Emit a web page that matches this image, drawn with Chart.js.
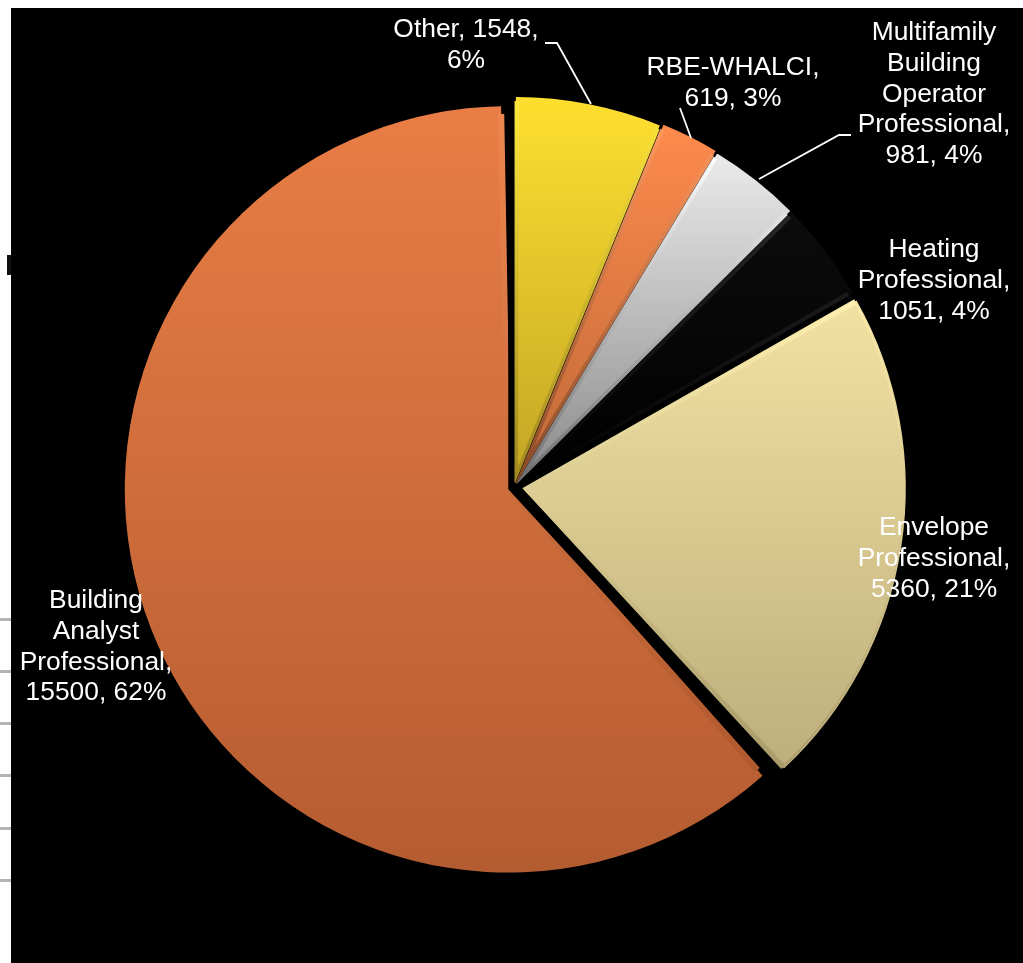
<!DOCTYPE html>
<html>
<head>
<meta charset="utf-8">
<title>Certifications</title>
<script src="https://cdn.jsdelivr.net/npm/chart.js@4"></script>
<style>
  html, body { margin: 0; padding: 0; background: #fff; overflow: hidden; }
  #myChart { position: absolute; left: 11px; top: 8px; background: #000; }
  .rule { position: absolute; left: 0; width: 11px; height: 3px; background: #b4b4b4; }
  #stub { position: absolute; left: 7px; top: 255px; width: 4px; height: 20px; background: #111; }
</style>
</head>
<body>
<div id="stub"></div>
<canvas id="myChart" width="1012" height="955"></canvas>
<script>
// Chart data.
const categories = ['Other', 'RBE-WHALCI', 'Multifamily Building Operator Professional', 'Heating Professional', 'Envelope Professional', 'Building Analyst Professional'];
const values = [1548, 619, 981, 1051, 5360, 15500];
const percents = [6, 3, 4, 4, 21, 62];

// Label text, one entry per line.
const labelLines = [
  ['Other, 1548,', '6%'],
  ['RBE-WHALCI,', '619, 3%'],
  ['Multifamily', 'Building', 'Operator', 'Professional,', '981, 4%'],
  ['Heating', 'Professional,', '1051, 4%'],
  ['Envelope', 'Professional,', '5360, 21%'],
  ['Building', 'Analyst', 'Professional,', '15500, 62%'],
];

// Where each label sits on the page (centre x, first line y).
const labelX = [466, 733, 934, 934, 934, 96];
const labelY = [30, 68, 33, 250, 528, 601];
const lineGap = 30.7;

// Leader lines, page coordinates.
const leaders = [
  [[545, 43], [557, 43], [591, 104]],
  [[680, 108], [691, 138]],
  [[851, 135], [839, 135], [759, 179]],
];

// Slice look: fill top, fill bottom, rim top, rim bottom.
const sliceColors = [
  ['#ffe02f', '#c4a626', '#ffe93f', '#a08820'],
  ['#ff8a4d', '#c06a38', '#ff9a60', '#8a4a28'],
  ['#ececec', '#8c8c8c', '#ffffff', '#707070'],
  ['#0c0c0c', '#000000', '#262626', '#000000'],
  ['#f3e1a3', '#bdae7b', '#fff0b0', '#a89a6a'],
  ['#e97d45', '#b45c31', '#ee8750', '#a65229'],
];
const sliceTop = [97, 125, 153, 212, 300, 105];
const sliceBottom = [480, 480, 480, 485, 768, 872];
const sliceOffsets = [18, 18, 18, 18, 36, 26];
// Arc draws big slices wider when offset, take that back.
const radiusTrim = [-1, -2, -1, -1, -1, 5];

// The canvas starts at 11,8 on the page.
const canvasLeft = 11;
const canvasTop = 8;

// Grey rules left over down the white strip.
[619, 671, 723, 775, 828, 880].forEach((y) => {
  const rule = document.createElement('div');
  rule.className = 'rule';
  rule.style.top = (y - 1) + 'px';
  document.body.appendChild(rule);
});

function sliceGradient(context, index, first, second) {
  const grad = context.chart.ctx.createLinearGradient(0, sliceTop[index] - canvasTop, 0, sliceBottom[index] - canvasTop);
  grad.addColorStop(0, sliceColors[index][first]);
  grad.addColorStop(1, sliceColors[index][second]);
  return grad;
}

const trimPlugin = {
  id: 'radiusTrim',
  afterDatasetsUpdate(chart) {
    chart.getDatasetMeta(0).data.forEach((arc, i) => {
      arc.outerRadius -= radiusTrim[i];
    });
  },
};

// Draws the text labels and the leader lines over the pie.
const labelPlugin = {
  id: 'sliceLabels',
  afterDraw(chart) {
    const ctx = chart.ctx;
    ctx.save();
    ctx.translate(-canvasLeft, -canvasTop);
    ctx.strokeStyle = '#fff';
    ctx.lineWidth = 1.8;
    leaders.forEach((leader) => {
      ctx.beginPath();
      leader.forEach((p, i) => {
        if (i === 0) ctx.moveTo(p[0], p[1]);
        else ctx.lineTo(p[0], p[1]);
      });
      ctx.stroke();
    });
    ctx.fillStyle = '#fff';
    ctx.font = '26.4px "Liberation Sans", Arial, sans-serif';
    ctx.textAlign = 'center';
    ctx.textBaseline = 'middle';
    labelLines.forEach((lines, i) => {
      lines.forEach((line, j) => {
        ctx.fillText(line, labelX[i], labelY[i] + j * lineGap);
      });
    });
    ctx.restore();
  },
};

const data = {
  labels: categories,
  datasets: [
    {
      data: values,
      backgroundColor: (c) => sliceGradient(c, c.dataIndex, 0, 1),
      borderColor: (c) => sliceGradient(c, c.dataIndex, 2, 3),
      borderWidth: 3,
      borderAlign: 'inner',
      spacing: 3,
      offset: sliceOffsets,
    },
  ],
};

const config = {
  type: 'pie',
  data: data,
  options: {
    responsive: false,
    animation: false,
    layout: { padding: { left: 103, top: 79, right: 109, bottom: 76 } },
    plugins: { legend: { display: false }, tooltip: { enabled: false } },
  },
  plugins: [trimPlugin, labelPlugin],
};

const chart = new Chart(document.getElementById('myChart'), config);
</script>
</body>
</html>
